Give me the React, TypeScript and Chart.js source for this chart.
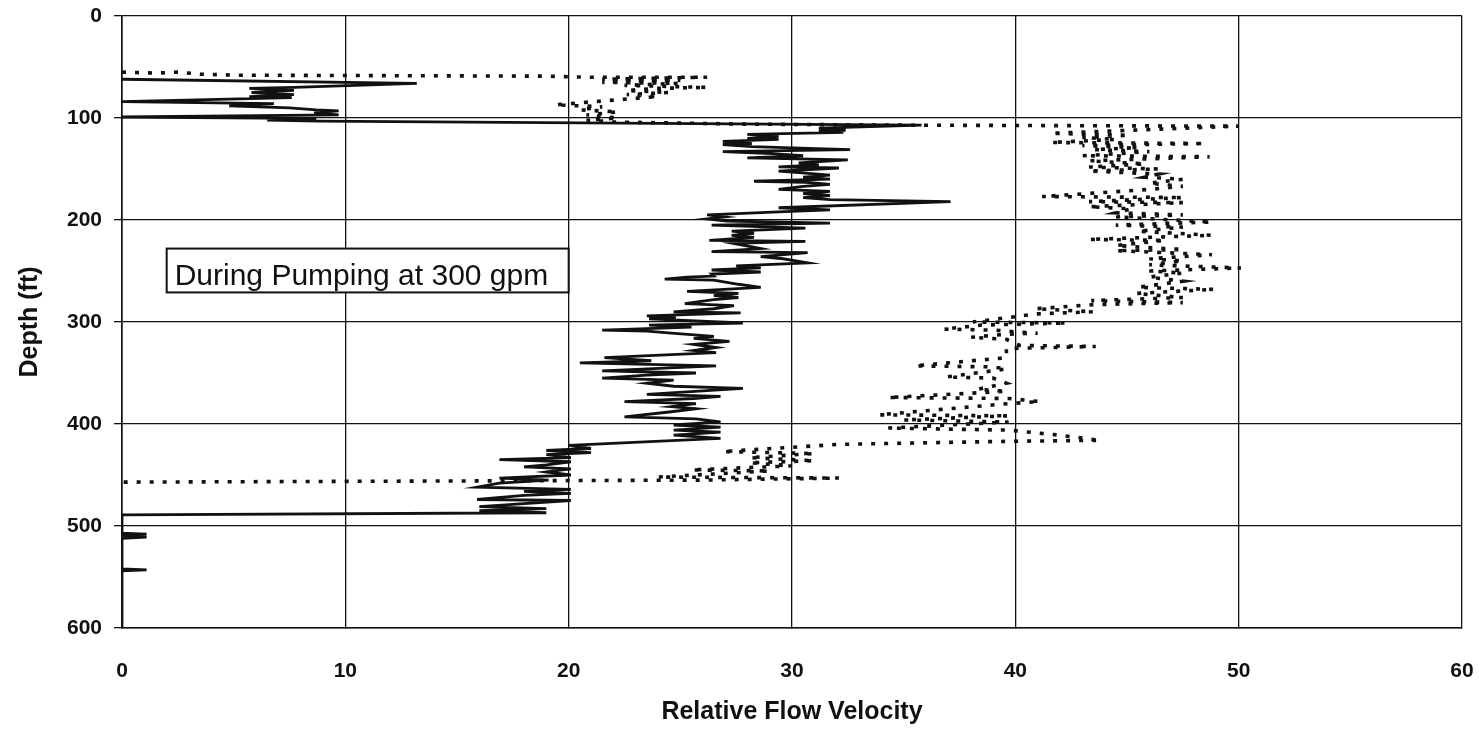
import React, { useEffect, useRef } from 'react';
import { Chart, registerables } from 'chart.js';

Chart.register(...registerables);

const FONT = '"Liberation Sans", Arial, Helvetica, sans-serif';

// Solid trace: during pumping (velocity, depth in ft)
const solidVelocity = [
  0, 13.2, 7.7, 5.7, 7.7, 5.8, 7.7, 5.7, 7.6, 0,
  6.8, 4.8, 7.5, 8.7, 9.7, 8.6, 9.7, 0, 6.4, 8.7,
  6.5, 8.8, 35.8, 31.2, 32.4, 31.2, 32.3, 28.0, 29.4, 28.0,
  29.4, 26.9, 28.2, 26.9, 28.2, 32.6, 26.9, 29.1, 30.5, 28.0,
  32.5, 30.3, 31.2, 29.4, 32.1, 29.4, 30.6, 31.7, 30.5, 31.7,
  28.3, 30.6, 31.7, 30.5, 29.4, 31.7, 30.5, 31.7, 30.5, 31.7,
  37.1, 29.4, 31.7, 29.4, 26.2, 27.0, 26.2, 27.1, 31.7, 26.4,
  30.6, 27.3, 28.3, 27.3, 28.3, 26.3, 30.6, 27.4, 28.6, 26.4,
  30.7, 28.6, 29.6, 30.7, 27.5, 28.6, 26.4, 28.6, 26.4, 26.5,
  25.3, 24.3, 26.5, 27.6, 28.6, 25.3, 27.6, 26.5, 27.6, 26.5,
  25.2, 27.4, 26.5, 24.7, 27.7, 23.5, 24.8, 23.6, 27.8, 23.6,
  25.5, 21.5, 23.5, 24.6, 26.5, 25.6, 27.2, 25.6, 26.6, 25.6,
  26.6, 24.6, 21.6, 23.7, 20.5, 26.6, 21.5, 25.7, 23.5, 21.5,
  24.7, 23.5, 24.7, 27.8, 23.5, 26.8, 25.6, 22.5, 25.7, 24.6,
  25.7, 24.6, 22.5, 25.7, 26.8, 24.7, 26.8, 24.7, 26.8, 24.7,
  26.8, 20.0, 21.0, 19.0, 21.0, 19.0, 20.1, 16.9, 20.1, 19.0,
  18.0, 20.1, 19.0, 20.1, 16.9, 19.1, 16.9, 15.9, 20.1, 18.0,
  20.1, 18.0, 15.9, 20.1, 18.0, 16.0, 19.0, 16.0, 19.0, 0,
  0, 1.1, 0, 1.1, 0, 0, 1.1, 0, 0,
];
const solidDepth = [
  62, 66, 70, 71, 73, 75, 77, 79, 80, 84,
  86, 88, 90, 92, 93, 95, 97, 99, 100, 101,
  102, 103, 107, 110, 112, 113, 114, 116, 118, 120,
  121, 123, 125, 126, 128, 131, 133, 135, 137, 139,
  141, 144, 146, 148, 149, 152, 154, 156, 158, 160,
  162, 163, 165, 167, 170, 172, 174, 176, 178, 180,
  182, 188, 190, 192, 195, 197, 199, 201, 203, 205,
  208, 211, 213, 215, 217, 220, 221, 223, 228, 231,
  232, 236, 238, 242, 245, 247, 249, 251, 253, 255,
  256, 258, 259, 263, 266, 270, 272, 274, 276, 278,
  282, 284, 287, 290, 291, 294, 296, 297, 301, 303,
  305, 308, 309, 311, 314, 316, 319, 322, 325, 328,
  330, 332, 335, 338, 340, 343, 348, 350, 352, 355,
  357, 360, 363, 365, 371, 373, 375, 378, 380, 383,
  385, 388, 393, 395, 398, 401, 403, 406, 408, 411,
  414, 421, 424, 426, 428, 430, 433, 435, 437, 440,
  442, 444, 447, 450, 453, 455, 458, 462, 464, 466,
  468, 470, 474, 475, 478, 481, 483, 485, 487, 489,
  507, 508, 509, 511, 512, 542, 543, 544, 600,
];

// Dotted trace (velocity, depth in ft)
const dottedVelocity = [
  0, 1.5, 2.5, 3.5, 5.0, 19.0, 20.8, 26.2, 21.5, 25.0,
  21.5, 24.9, 22.5, 26.2, 24.0, 22.6, 24.5, 22.6, 24.0, 19.4,
  21.5, 20.5, 22.2, 20.8, 22.2, 20.8, 22.2, 27.9, 34.8, 50.0,
  41.6, 45.1, 43.0, 44.5, 41.6, 48.5, 43.0, 45.5, 43.5, 46.0,
  43.0, 48.7, 43.3, 45.8, 43.3, 46.4, 43.3, 46.4, 45.8, 47.5,
  46.0, 47.5, 46.0, 41.2, 47.5, 43.3, 47.5, 43.3, 45.2, 44.5,
  47.5, 44.5, 48.8, 44.5, 47.5, 45.5, 48.8, 43.3, 46.7, 44.5,
  47.5, 44.5, 48.8, 46.0, 47.5, 46.0, 50.1, 46.0, 47.5, 46.0,
  47.5, 45.5, 48.9, 45.4, 47.5, 43.4, 47.5, 43.5, 40.9, 43.5,
  41.0, 38.1, 42.3, 38.5, 36.8, 39.1, 40.2, 41.0, 39.6, 38.0,
  39.6, 40.2, 43.6, 39.6, 39.6, 35.5, 39.0, 39.6, 36.9, 39.0,
  39.6, 38.3, 39.6, 34.3, 39.7, 41.1, 39.7, 33.9, 39.7, 35.0,
  39.7, 34.3, 39.7, 42.0, 43.8, 39.6, 32.1, 26.9, 31.0, 28.1,
  31.0, 28.1, 30.0, 25.5, 29.0, 24.0, 32.1, 26.0, 0,
];
const dottedDepth = [
  55, 56, 55, 57, 58, 59, 60, 60, 62, 63,
  65, 66, 68, 70, 71, 73, 75, 77, 79, 87,
  89, 92, 94, 97, 100, 102, 104, 106, 107, 108,
  115, 117, 119, 121, 124, 125, 127, 129, 131, 133,
  137, 138, 142, 145, 148, 150, 152, 155, 158, 160,
  164, 167, 170, 177, 178, 182, 183, 187, 189, 193,
  195, 197, 202, 205, 207, 211, 215, 219, 220, 225,
  229, 230, 234, 238, 240, 244, 247, 250, 252, 256,
  260, 266, 268, 272, 276, 279, 281, 283, 287, 290,
  292, 300, 301, 303, 307, 308, 310, 311, 312, 315,
  317, 323, 324, 326, 335, 343, 344, 346, 354, 355,
  360, 366, 368, 374, 375, 378, 380, 391, 392, 396,
  398, 404, 406, 411, 416, 417, 420, 427, 429, 433,
  436, 438, 441, 445, 446, 452, 453, 455, 457,
];

const xTickValues = [0, 10, 20, 30, 40, 50, 60];
const yTickValues = [0, 100, 200, 300, 400, 500, 600];
const xTitle = 'Relative Flow Velocity';
const yTitle = 'Depth (ft)';
const noteText = 'During Pumping at 300 gpm';

export default function App() {
  const ref = useRef<HTMLCanvasElement>(null);

  useEffect(() => {
    document.body.style.margin = '0';
    document.body.style.background = '#fff';
    const canvas = ref.current;
    if (!canvas) return;

    const notePlugin = {
      id: 'noteBox',
      afterDatasetsDraw(chart: any) {
        const ctx = chart.ctx as CanvasRenderingContext2D;
        const xs = chart.scales.x;
        const ys = chart.scales.y;
        const left = xs.getPixelForValue(2.0);
        const right = xs.getPixelForValue(20.0);
        const top = ys.getPixelForValue(228);
        const bottom = ys.getPixelForValue(271);
        ctx.save();
        ctx.fillStyle = '#fff';
        ctx.fillRect(left, top, right - left, bottom - top);
        ctx.strokeStyle = '#111';
        ctx.lineWidth = 2;
        ctx.strokeRect(left, top, right - left, bottom - top);
        ctx.fillStyle = '#111';
        ctx.font = `30px ${FONT}`;
        ctx.textBaseline = 'alphabetic';
        ctx.textAlign = 'left';
        ctx.fillText(noteText, left + 8, bottom - 7);
        ctx.restore();
      },
    };

    const chart = new Chart(canvas, {
      type: 'scatter',
      data: {
        datasets: [
          {
            label: 'During pumping',
            data: solidVelocity.map((v, i) => ({ x: v, y: solidDepth[i] })),
            showLine: true,
            borderColor: '#111',
            backgroundColor: '#111',
            borderWidth: 2.8,
            pointRadius: 0,
            tension: 0,
          },
          {
            label: 'Dotted profile',
            data: dottedVelocity.map((v, i) => ({ x: v, y: dottedDepth[i] })),
            showLine: true,
            borderColor: '#111',
            backgroundColor: '#111',
            borderWidth: 3.6,
            borderDash: [4, 9],
            borderCapStyle: 'butt',
            pointRadius: 0,
            tension: 0,
          },
        ],
      },
      options: {
        responsive: false,
        animation: false,
        layout: { padding: { left: 0, top: 16, right: 17, bottom: 0 } },
        plugins: {
          legend: { display: false },
          tooltip: { enabled: false },
        },
        scales: {
          x: {
            type: 'linear',
            position: 'bottom',
            min: 0,
            max: 60,
            afterBuildTicks: (s: any) => {
              s.ticks = xTickValues.map((v) => ({ value: v }));
            },
            ticks: {
              color: '#111',
              font: { family: FONT, size: 21, weight: 'bold' },
              padding: 31,
              maxRotation: 0,
            },
            grid: { color: '#111', lineWidth: 1.3, tickLength: 0 },
            border: { color: '#111', width: 1.6 },
            title: {
              display: true,
              text: xTitle,
              color: '#111',
              font: { family: FONT, size: 25, weight: 'bold' },
              padding: { top: 0, bottom: 2 },
            },
            afterFit: (s: any) => {
              s.height = 101;
              s.paddingLeft = 0;
              s.paddingRight = 0;
              s.paddingTop = 0;
              s.paddingBottom = 0;
            },
          },
          y: {
            type: 'linear',
            reverse: true,
            min: 0,
            max: 600,
            afterBuildTicks: (s: any) => {
              s.ticks = yTickValues.map((v) => ({ value: v }));
            },
            ticks: {
              color: '#111',
              font: { family: FONT, size: 21, weight: 'bold' },
              padding: 12,
            },
            grid: { color: '#111', lineWidth: 1.3, tickLength: 8 },
            border: { color: '#111', width: 1.6 },
            title: {
              display: true,
              text: yTitle,
              color: '#111',
              font: { family: FONT, size: 25, weight: 'bold' },
              padding: { top: 15, bottom: 0 },
            },
            afterFit: (s: any) => {
              s.width = 122;
              s.paddingLeft = 0;
              s.paddingRight = 0;
              s.paddingTop = 0;
              s.paddingBottom = 0;
            },
          },
        },
      },
      plugins: [notePlugin],
    } as any);

    return () => chart.destroy();
  }, []);

  return (
    <div style={{ position: 'relative', width: 1479, height: 729, background: '#fff' }}>
      <canvas ref={ref} width={1479} height={729} style={{ display: 'block' }} />
    </div>
  );
}
